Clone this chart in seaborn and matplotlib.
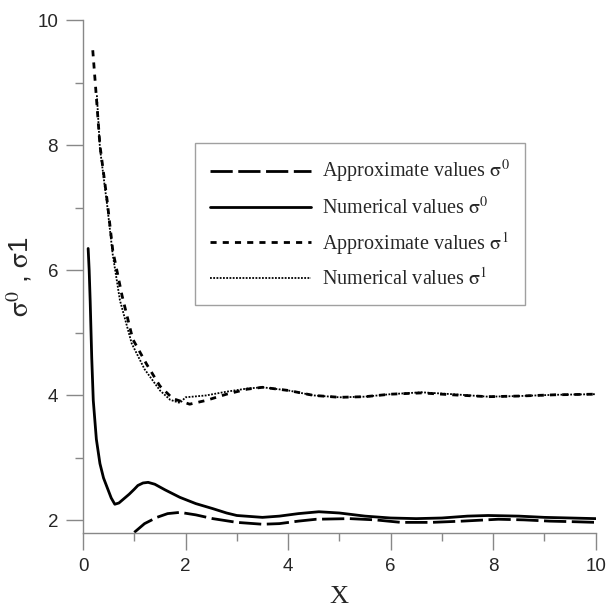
import numpy as np
import pandas as pd
import seaborn as sns
from matplotlib import pyplot as plt
from matplotlib.ticker import MultipleLocator

# numerical sigma0 (solid)
x_num0 = [0.1, 0.12, 0.14, 0.17, 0.2, 0.26, 0.33, 0.4, 0.47, 0.55, 0.62, 0.7, 0.8, 0.9, 1.0, 1.07,
          1.17, 1.27, 1.4, 1.6, 1.89, 2.2, 2.53, 2.8, 3.0, 3.5, 3.83, 4.2, 4.6, 5.0, 5.5, 6.0,
          6.5, 7.0, 7.5, 7.9, 8.5, 9.0, 9.5, 10.0]
y_num0 = [6.35, 6.0, 5.5, 4.6, 3.92, 3.3, 2.91, 2.68, 2.53, 2.36, 2.26, 2.28, 2.35, 2.42, 2.5, 2.56,
          2.6, 2.61, 2.58, 2.49, 2.37, 2.27, 2.19, 2.12, 2.08, 2.05, 2.07, 2.11, 2.14, 2.12, 2.07, 2.04,
          2.03, 2.04, 2.07, 2.08, 2.07, 2.05, 2.04, 2.03]

# approximate sigma0 (long dash)
x_app0 = [1.0, 1.2, 1.44, 1.65, 1.89, 2.2, 2.53, 3.0, 3.5, 3.83, 4.2, 4.55, 5.2, 5.7, 6.2, 6.8,
          7.4, 8.1, 8.6, 9.1, 9.6, 10.0]
y_app0 = [1.81, 1.95, 2.05, 2.11, 2.13, 2.09, 2.03, 1.97, 1.94, 1.95, 1.99, 2.02, 2.03, 2.01, 1.97, 1.97,
          1.99, 2.02, 2.01, 1.99, 1.98, 1.97]

# approximate sigma1 (short dash)
x_app1 = [0.19, 0.25, 0.33, 0.47, 0.58, 0.76, 0.97, 1.24, 1.5, 1.75, 2.08, 2.4, 2.8, 3.2, 3.5, 4.0,
          4.5, 5.0, 5.5, 6.0, 6.6, 7.2, 7.9, 8.5, 9.2, 10.0]
y_app1 = [9.52, 8.88, 8.0, 7.12, 6.32, 5.6, 4.9, 4.5, 4.15, 3.95, 3.86, 3.92, 4.02, 4.1, 4.13, 4.08,
          4.0, 3.97, 3.98, 4.02, 4.04, 4.01, 3.98, 3.99, 4.01, 4.02]

# numerical sigma1 (dotted)
x_num1 = [0.27, 0.33, 0.47, 0.58, 0.72, 0.95, 1.2, 1.5, 1.7, 1.89, 2.0, 2.4, 2.8, 3.2, 3.5, 4.0,
          4.5, 5.0, 5.5, 6.0, 6.6, 7.2, 7.9, 8.5, 9.2, 10.0]
y_num1 = [8.8, 7.95, 7.05, 6.25, 5.52, 4.83, 4.42, 4.08, 3.93, 3.88, 3.97, 4.0, 4.06, 4.11, 4.13, 4.08,
          4.0, 3.97, 3.98, 4.02, 4.05, 4.02, 3.98, 3.99, 4.01, 4.02]

sns.set_style("ticks")
plt.rcParams['font.family'] = ['Liberation Sans', 'DejaVu Sans']
plt.rcParams['mathtext.fontset'] = 'stix'

fig = plt.figure(figsize=(6.06, 6.13), dpi=100)
ax = fig.add_axes([0.137, 0.1305, 0.846, 0.8365])

series = [
    (x_app0, y_app0, (0, (8, 2)), 2.0, 'Approximate values $\\mathrm{\\sigma}^0$'),
    (x_num0, y_num0, '-', 2.0, 'Numerical values $\\mathrm{\\sigma}^0$'),
    (x_app1, y_app1, (0, (2.2, 2.2)), 2.0, 'Approximate values $\\mathrm{\\sigma}^1$'),
    (x_num1, y_num1, (0, (1, 0.8)), 1.3, 'Numerical values $\\mathrm{\\sigma}^1$'),
]
for xs, ys, ls, lw, lab in series:
    df = pd.DataFrame({'x': xs, 'y': ys})
    sns.lineplot(data=df, x='x', y='y', ax=ax, color='black', linestyle=ls, linewidth=lw,
                 label=lab, estimator=None, sort=False)

ax.set_xlim(0, 10)
ax.set_ylim(1.8, 10)
ax.xaxis.set_major_locator(MultipleLocator(2))
ax.xaxis.set_minor_locator(MultipleLocator(1))
ax.yaxis.set_major_locator(MultipleLocator(2))
ax.yaxis.set_minor_locator(MultipleLocator(1))
ax.set_yticks([2, 4, 6, 8, 10])
ax.tick_params(which='major', length=12, width=1, color='#888888', labelsize=13.5, pad=6)
ax.tick_params(which='minor', length=6, width=1, color='#888888')
sns.despine(ax=ax)
for s in ['left', 'bottom']:
    ax.spines[s].set_color('#888888')
    ax.spines[s].set_linewidth(1)
ax.spines['left'].set_bounds(1.8, 10)

ax.set_xlabel('X', fontsize=19, family='Liberation Serif', labelpad=8)
ax.set_ylabel('$\\mathrm{\\sigma}^0$ , $\\mathrm{\\sigma}$1', fontsize=20, labelpad=2)

leg = ax.legend(loc='upper left', bbox_to_anchor=(0.218, 0.76), borderaxespad=0, frameon=True,
                fancybox=False, edgecolor='#888888', handlelength=5.0, handletextpad=0.55,
                labelspacing=0.55, borderpad=0.75,
                prop={'family': 'Liberation Serif', 'size': 14.5})
leg.get_frame().set_linewidth(1)

fig.savefig('out.png', dpi=100)
